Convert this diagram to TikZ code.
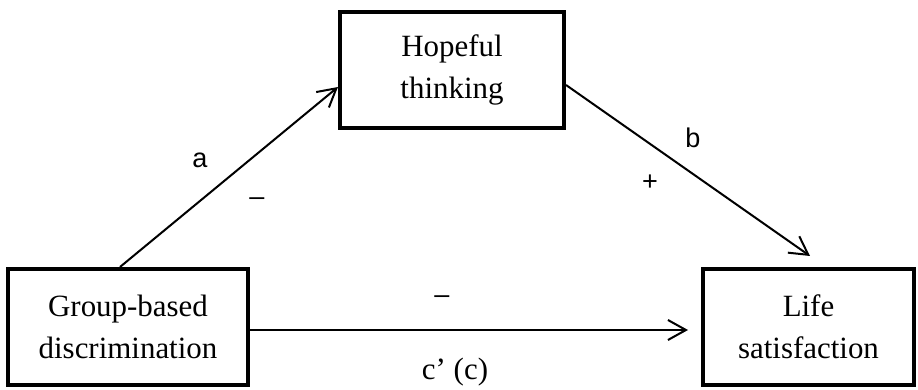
\documentclass[tikz,border=0pt]{standalone}
\usepackage{fontspec}
\setmainfont{Liberation Serif}
\newfontfamily\labelfont{Liberation Sans}
\usetikzlibrary{arrows.meta}
\tikzset{varbox/.style={draw,line width=.08cm,minimum height=2.32cm,align=center,
 font=\fontsize{17.6}{24}\selectfont},
 effect/.style={-{Straight Barb[length=.36cm,width=.4cm]},line width=.04cm},
 coef/.style={font=\labelfont\fontsize{15.4}{18}\selectfont}}

\begin{document}
\begin{tikzpicture}
\useasboundingbox (0,0) rectangle (18.36,7.8);
\node[varbox,minimum width=4.8cm] (grp) at (2.56,1.26) {Group-based\\discrimination};
\node[varbox,minimum width=4.48cm] (hope) at (9.04,6.4) {Hopeful\\thinking};
\node[varbox,minimum width=4.22cm] (life) at (16.17,1.26) {Life\\satisfaction};
\draw[effect] ([xshift=-.16cm]grp.north) -- ([yshift=-.34cm]hope.west);
\draw[effect] ([yshift=-.3cm]hope.east) -- ([xshift=.03cm,yshift=.22cm]life.north);
\draw[effect] ([yshift=-.06cm]grp.east) -- ([xshift=-.26cm,yshift=-.06cm]life.west);
\node[coef] (a) at (4,4.6) {a};
\node[coef] (aSign) at (5.14,3.76) {–};
\node[coef] (b) at (13.86,5.04) {b};
\node[coef] (bSign) at (13,4.14) {+};
\node[coef] (cSign) at (8.84,1.8) {–};
\node[font=\fontsize{17.6}{24}\selectfont] (c) at (9.1,.36) {c’ (c)};
\end{tikzpicture}
\end{document}
